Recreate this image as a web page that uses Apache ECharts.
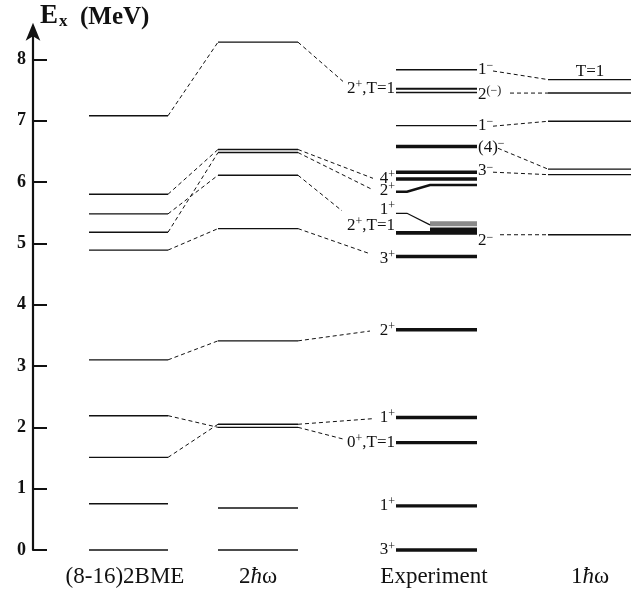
<!DOCTYPE html>
<html>
<head>
<meta charset="utf-8">
<script src="https://cdn.jsdelivr.net/npm/echarts@6/dist/echarts.min.js"></script>
<style>
html,body{margin:0;padding:0;background:#fff;}
#chart{width:639px;height:600px;}
</style>
</head>
<body>
<div id="chart"></div>
<script>
// ---------------- DATA (MeV) ----------------
const yTicks = [0, 1, 2, 3, 4, 5, 6, 7, 8];
const columnNames = ['(8-16)2BME', '2{i|ħ}ω', 'Experiment', '1{i|ħ}ω'];

const bmeLevels = [0, 0.755, 1.51, 2.19, 3.10, 4.89, 5.18, 5.48, 5.80, 7.08];
const hw2Levels = [0, 0.685, 2.00, 2.05, 3.41, 5.24, 6.11, 6.48, 6.53, 8.28];
const expLevels = [0, 0.72, 1.75, 2.16, 3.59, 4.785, 6.05, 6.16, 6.58, 6.92, 7.46, 7.52, 7.83];
const expDoublet = [5.14, 5.20, 5.26];     // unresolved 2+,T=1 group
const expShaded = [5.28, 5.36];            // shaded 1+ band
const exp2plus = [5.84, 5.95];             // 2+ level with bent marker
const exp1plus = [5.49, 5.30];             // 1+ marker pointing into band
const hw1Levels = [5.14, 6.12, 6.21, 6.99, 7.45, 7.67];

const link12 = [[7.08, 8.28], [5.80, 6.53], [5.48, 6.11], [5.18, 6.48], [4.89, 5.24], [3.10, 3.41], [2.19, 2.00], [1.51, 2.05]];
const link2E = [[8.28, 7.64], [6.53, 6.06], [6.48, 5.88], [6.11, 5.53], [5.24, 4.83], [3.41, 3.57], [2.05, 2.14], [2.00, 1.81]];
const linkE4 = [[7.81, 7.67], [7.45, 7.45], [6.91, 6.99], [6.55, 6.21], [6.16, 6.12], [5.14, 5.14]];

const expLeftLabels = [
  ['2{s|+},T=1', 7.53], ['4{s|+}', 6.06], ['2{s|+}', 5.86], ['1{s|+}', 5.55],
  ['2{s|+},T=1', 5.29], ['3{s|+}', 4.76], ['2{s|+}', 3.58], ['1{s|+}', 2.16],
  ['0{s|+},T=1', 1.75], ['1{s|+}', 0.72], ['3{s|+}', 0]
];
const expRightLabels = [
  ['1{s|−}', 7.83], ['2{s|(−)}', 7.43], ['1{s|−}', 6.92], ['(4){s|−}', 6.57],
  ['3{s|−}', 6.18], ['2{s|−}', 5.04]
];
const hw1Labels = [['T=1', 7.80]];

// ---------------- LAYOUT (px) ----------------
const COL = { bme: [89, 168], hw2: [218, 298], exp: [396, 477], hw1: [548, 631] };
const colCenters = [125, 258, 434, 590];
const link2EEndX = [343, 373, 372, 342, 370, 370, 372, 343];
const linkE4StartX = [493, 510, 493, 498, 493, 500];
const expLabelRightX = 395, expLabelLeftX = 478;

const INK = '#111';
const THIN = 1.4, THICK = 3.4;
const expWidths = [THICK, THICK, THICK, THICK, THICK, THICK, THICK, THICK, THICK, THIN, 1.6, 2.0, THIN];

const FONT = '"Liberation Serif","Times New Roman",serif';
const labelRich = {
  s: { fontSize: 12, fontFamily: FONT, color: INK, verticalAlign: 'top' }
};

// ---------------- SHAPES ----------------
const shapes = [];
function hline(x1, x2, e, w) { shapes.push({ t: 'poly', pts: [[x1, e], [x2, e]], w: w, dash: null }); }
function dline(x1, e1, x2, e2) { shapes.push({ t: 'poly', pts: [[x1, e1], [x2, e2]], w: 1, dash: [4, 3] }); }

bmeLevels.forEach(e => hline(COL.bme[0], COL.bme[1], e, THIN));
hw2Levels.forEach(e => hline(COL.hw2[0], COL.hw2[1], e, THIN));
expLevels.forEach((e, i) => hline(COL.exp[0], COL.exp[1], e, expWidths[i]));
hw1Levels.forEach(e => hline(COL.hw1[0], COL.hw1[1], e, THIN));

// special experimental shapes
shapes.push({ t: 'polygon', fill: '#111', pts: [
  [COL.exp[0], expDoublet[0]], [COL.exp[1], expDoublet[0]], [COL.exp[1], expDoublet[2]],
  [430, expDoublet[2]], [430, expDoublet[1]], [COL.exp[0], expDoublet[1]]
] });
shapes.push({ t: 'polygon', fill: '#8a8a8a', pts: [
  [430, expShaded[0]], [COL.exp[1], expShaded[0]], [COL.exp[1], expShaded[1]], [430, expShaded[1]]
] });
shapes.push({ t: 'poly', w: 2.6, dash: null, pts: [[COL.exp[0], exp2plus[0]], [407, exp2plus[0]], [430, exp2plus[1]], [COL.exp[1], exp2plus[1]]] });
shapes.push({ t: 'poly', w: 1.3, dash: null, pts: [[COL.exp[0], exp1plus[0]], [407, exp1plus[0]], [430, exp1plus[1]]] });

// connectors
link12.forEach(([a, b]) => dline(COL.bme[1], a, COL.hw2[0], b));
link2E.forEach(([a, b], i) => dline(COL.hw2[1], a, link2EEndX[i], b));
linkE4.forEach(([a, b], i) => dline(linkE4StartX[i], a, COL.hw1[0], b));

// texts
const texts = [];
expLeftLabels.forEach(([t, e]) => texts.push({ x: expLabelRightX, e: e, t: t, align: 'right' }));
expRightLabels.forEach(([t, e]) => texts.push({ x: expLabelLeftX, e: e, t: t, align: 'left' }));
hw1Labels.forEach(([t, e]) => texts.push({ x: colCenters[3], e: e, t: t, align: 'center' }));

const chart = echarts.init(document.getElementById('chart'), null, { renderer: 'canvas' });
const PX_PER = 61.333;
const gridBottom = 50, yMax = 8.5;
const gridTop = 600 - gridBottom - yMax * PX_PER;

chart.setOption({
  animation: false,
  backgroundColor: '#fff',
  grid: { left: 33, right: 0, top: gridTop, bottom: gridBottom, containLabel: false },
  xAxis: { type: 'value', min: 33, max: 639, show: false },
  yAxis: {
    type: 'value', min: 0, max: yMax, position: 'left',
    axisLine: { show: true, lineStyle: { color: INK, width: 2.2 }, symbol: ['none', 'arrow'], symbolSize: [11, 18], symbolOffset: [0, 6] },
    axisTick: { show: true, inside: true, length: 14, customValues: yTicks, lineStyle: { color: INK, width: 2 } },
    axisLabel: { show: true, customValues: yTicks, color: INK, fontFamily: FONT, fontSize: 18, fontWeight: 'bold', margin: 7 },
    splitLine: { show: false }
  },
  graphic: [
    { type: 'text', left: 40, top: 3, style: {
      text: '{e|E}{x|x}{m|  (MeV)}',
      rich: {
        e: { fontFamily: FONT, fontSize: 27, fontWeight: 'bold', fill: INK, verticalAlign: 'bottom' },
        x: { fontFamily: FONT, fontSize: 17, fontWeight: 'bold', fill: INK, verticalAlign: 'bottom', padding: [0, 0, 0, 1] },
        m: { fontFamily: FONT, fontSize: 25, fontWeight: 'bold', fill: INK, verticalAlign: 'bottom' }
      }
    } }
  ].concat(columnNames.map((n, i) => ({
    type: 'text', x: colCenters[i], y: 577, style: {
      text: n, align: 'center', verticalAlign: 'middle', fill: INK, fontFamily: FONT, fontSize: 23,
      rich: { i: { fontFamily: FONT, fontSize: 23, fontStyle: 'italic', fill: INK } }
    }
  }))),
  series: [
    {
      type: 'custom', name: 'shapes', clip: false,
      data: shapes.map((s, i) => [i, 0]),
      renderItem: function (params, api) {
        const s = shapes[params.dataIndex];
        const pts = s.pts.map(p => api.coord(p));
        if (s.t === 'polygon') {
          return { type: 'polygon', shape: { points: pts }, style: { fill: s.fill, stroke: null } };
        }
        return { type: 'polyline', shape: { points: pts },
          style: { stroke: INK, lineWidth: s.w, lineDash: s.dash || null, fill: null } };
      }
    },
    {
      type: 'custom', name: 'texts', clip: false,
      data: texts.map((s, i) => [i, 0]),
      renderItem: function (params, api) {
        const s = texts[params.dataIndex];
        const p = api.coord([s.x, s.e]);
        return { type: 'text', x: p[0], y: p[1], style: {
          text: s.t, align: s.align, verticalAlign: 'middle', fill: INK,
          fontFamily: FONT, fontSize: 17, lineHeight: 19, rich: labelRich
        } };
      }
    }
  ]
});
</script>
</body>
</html>
